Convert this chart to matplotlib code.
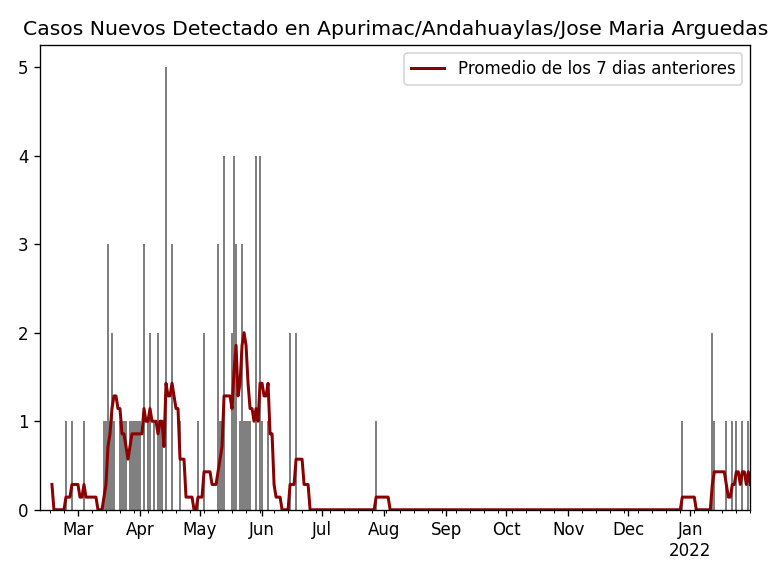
import numpy as np
import pandas as pd
import matplotlib

matplotlib.use("Agg")
import matplotlib.pyplot as plt  # noqa: E402
import matplotlib.dates as mdates  # noqa: E402

# Daily new cases (only non-zero days are listed; every other day is 0).
fechas_casos = [
    "2021-02-10",  # before the plotted range, only feeds the first average
    "2021-02-23", "2021-02-26", "2021-03-04",
    "2021-03-14", "2021-03-15", "2021-03-16", "2021-03-17", "2021-03-18", "2021-03-19",
    "2021-03-22", "2021-03-23", "2021-03-24", "2021-03-25",
    "2021-03-27", "2021-03-28", "2021-03-29", "2021-03-30", "2021-03-31", "2021-04-01",
    "2021-04-03", "2021-04-05", "2021-04-06", "2021-04-08", "2021-04-10",
    "2021-04-11", "2021-04-12", "2021-04-14", "2021-04-17", "2021-04-21", "2021-04-30",
    "2021-05-03", "2021-05-10", "2021-05-11", "2021-05-12", "2021-05-13",
    "2021-05-17", "2021-05-18", "2021-05-19", "2021-05-21", "2021-05-22",
    "2021-05-23", "2021-05-24", "2021-05-25", "2021-05-26",
    "2021-05-29", "2021-05-31", "2021-06-01", "2021-06-04",
    "2021-06-15", "2021-06-18", "2021-07-28", "2021-12-28",
    "2022-01-12", "2022-01-13", "2022-01-19", "2022-01-22", "2022-01-24",
    "2022-01-27", "2022-01-30",
]
casos = [
    2,
    1, 1, 1,
    1, 1, 3, 1, 2, 1,
    1, 1, 1, 1,
    1, 1, 1, 1, 1, 1,
    3, 1, 2, 1, 2,
    1, 1, 5, 3, 1, 1,
    2, 3, 1, 1, 4,
    2, 4, 3, 1, 3,
    1, 1, 1, 1,
    4, 4, 1, 1,
    2, 2, 1, 1,
    2, 1, 1, 1, 1,
    1, 1,
]

inicio_serie = "2021-02-09"
inicio_grafico = "2021-02-16"
fin_serie = "2022-01-31"
titulo = "Casos Nuevos Detectado en Apurimac/Andahuaylas/Jose Maria Arguedas"
etiqueta_promedio = "Promedio de los 7 dias anteriores"

# Build the full daily series and the 7-day rolling mean.
dias = pd.date_range(inicio_serie, fin_serie, freq="D")
serie = pd.Series(0, index=dias, dtype=float)
serie[pd.to_datetime(fechas_casos)] = casos
promedio = serie.rolling(7, min_periods=1).mean()

serie = serie[inicio_grafico:]
promedio = promedio[inicio_grafico:]

fig, ax = plt.subplots(figsize=(6.4, 4.8), dpi=120)
fig.subplots_adjust(left=0.052, right=0.977, top=0.922, bottom=0.115)

ax.bar(serie.index, serie.values, width=0.9, color="gray")
ax.plot(promedio.index, promedio.values, color="darkred", lw=1.8,
        label=etiqueta_promedio)

ax.set_xlim(pd.Timestamp("2021-02-10"), pd.Timestamp("2022-01-31"))
ax.set_ylim(0, 5.25)

ax.xaxis.set_major_locator(mdates.MonthLocator())
ax.xaxis.set_minor_locator(mdates.WeekdayLocator(byweekday=mdates.MO))


def fmt_mes(x, pos=None):
    d = mdates.num2date(x)
    if d.month == 1:
        return d.strftime("%b\n%Y")
    return d.strftime("%b")


ax.xaxis.set_major_formatter(plt.FuncFormatter(fmt_mes))
ax.set_title(titulo, fontsize=12.2)
ax.legend(loc="upper right")

fig.savefig("out.png", dpi=120)
plt.close(fig)
